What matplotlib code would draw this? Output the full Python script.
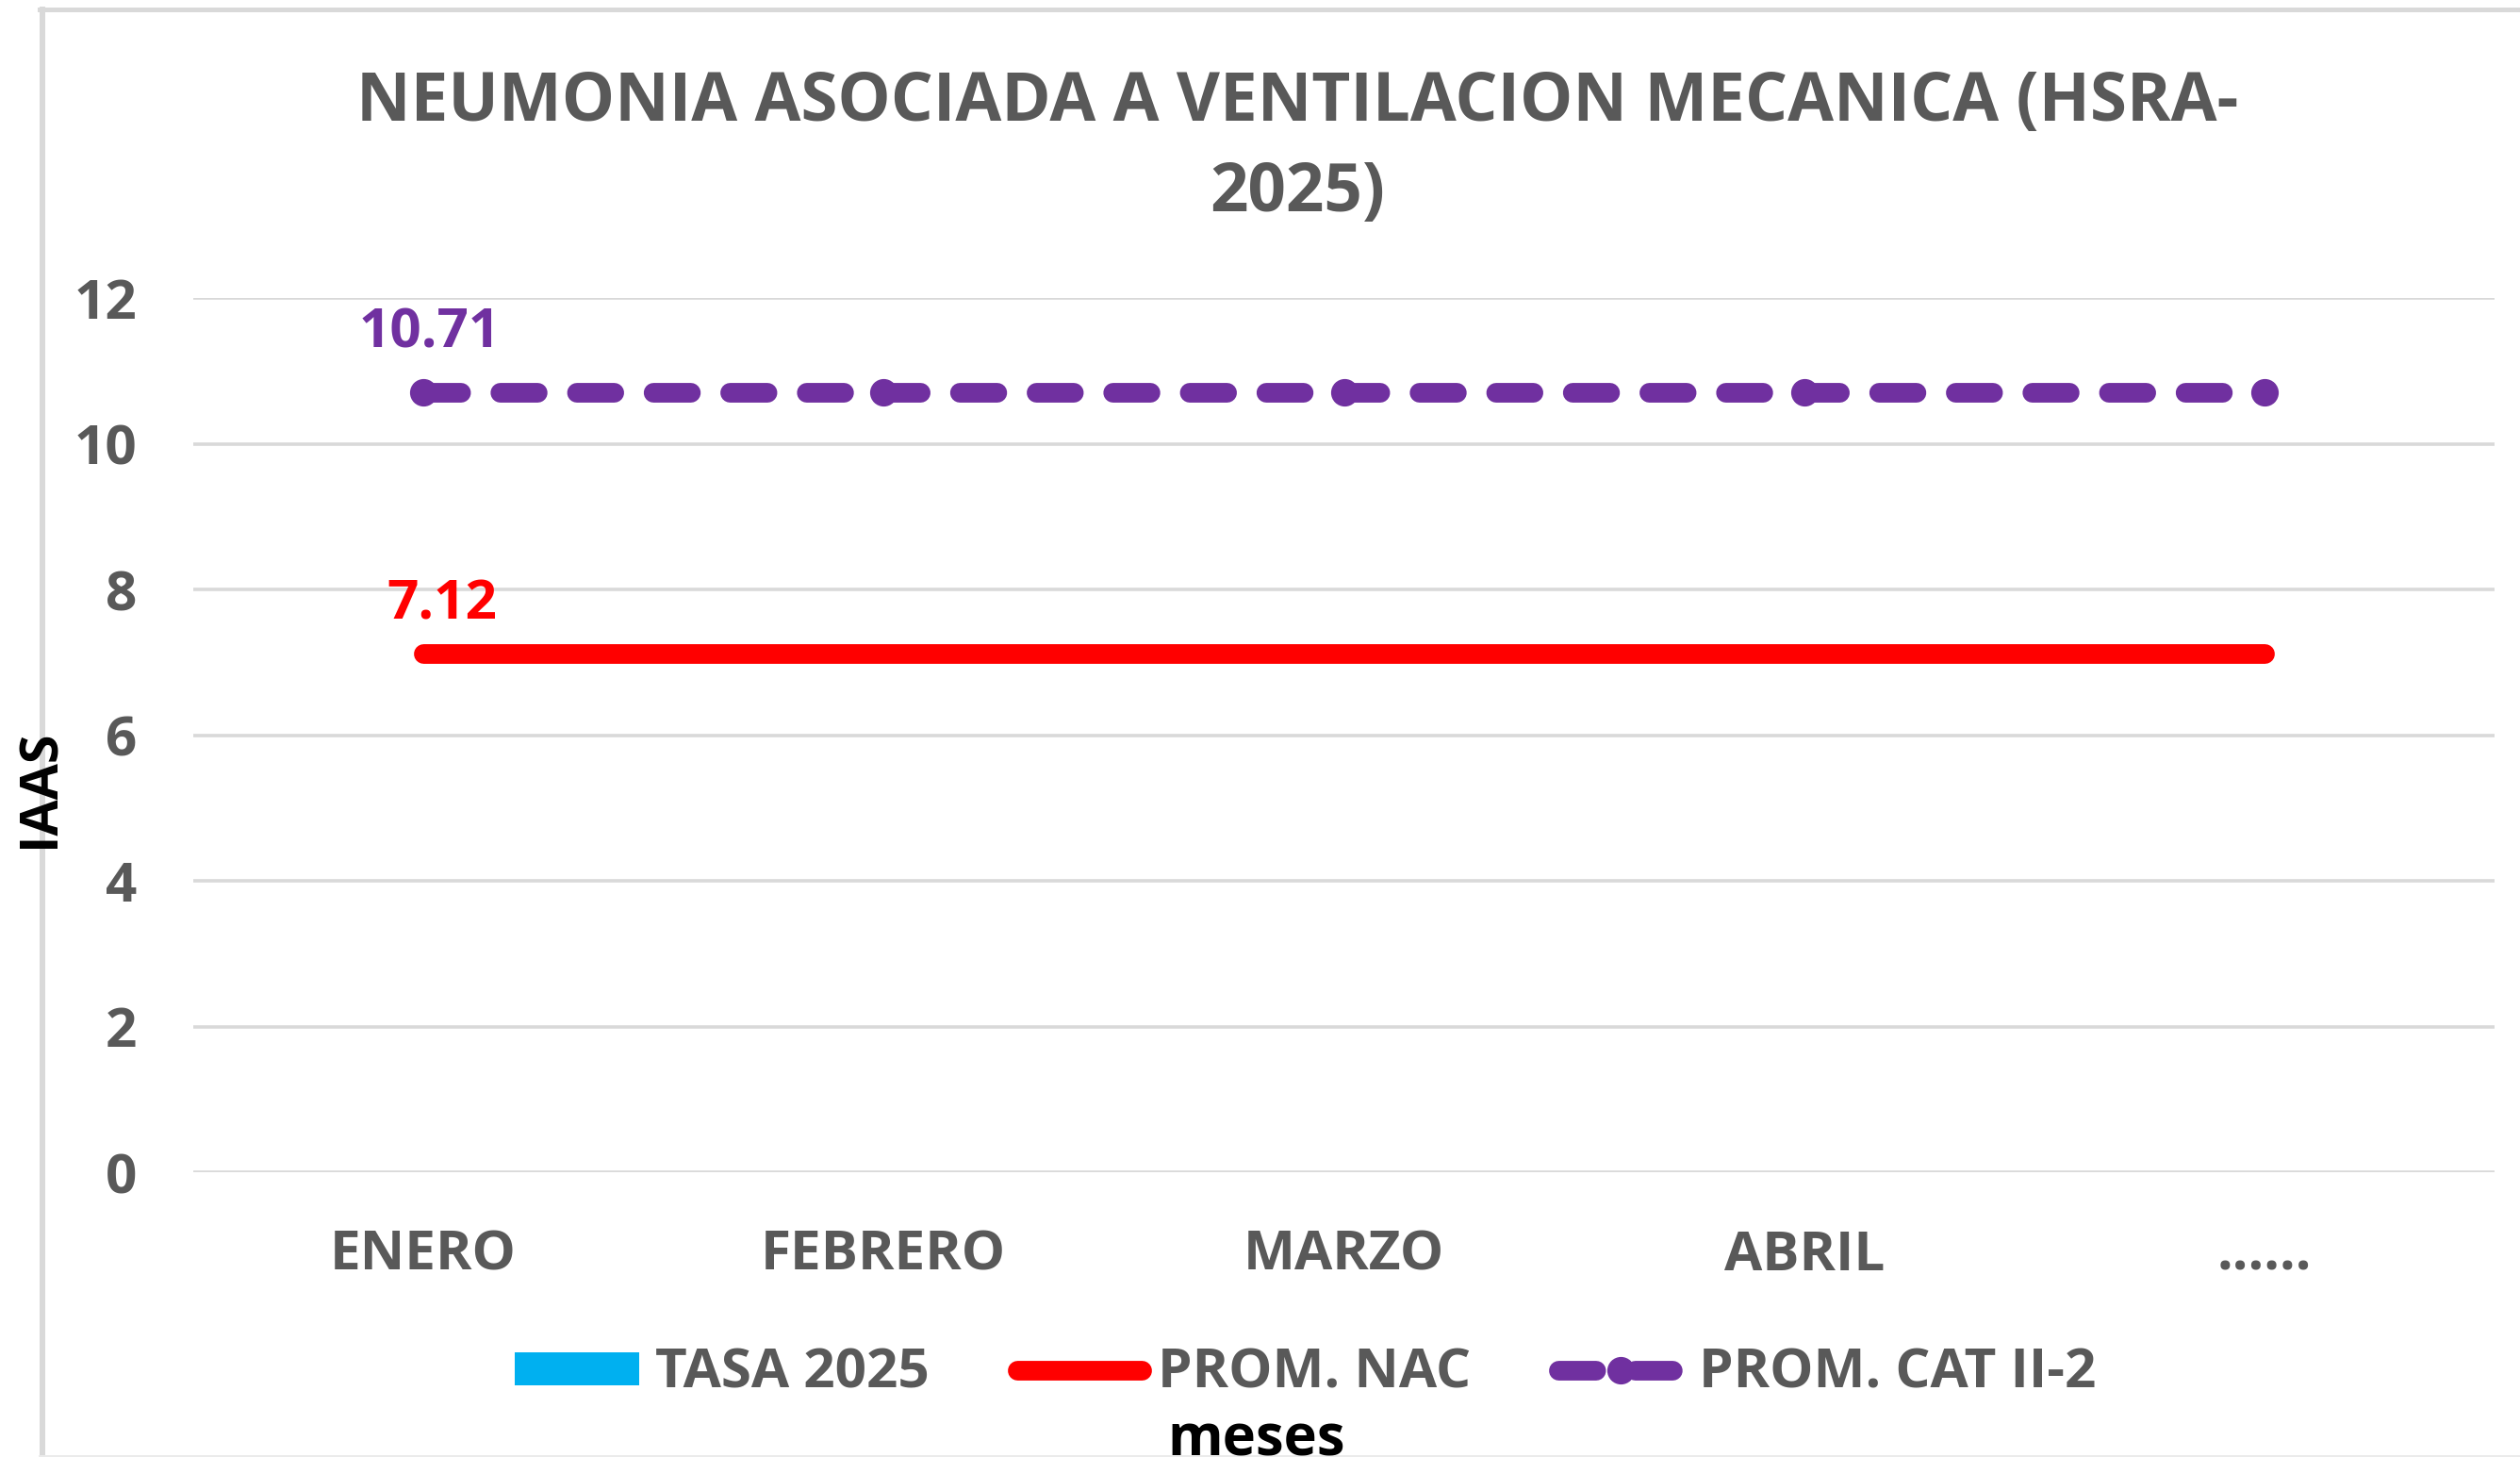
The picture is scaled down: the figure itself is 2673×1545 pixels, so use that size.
import numpy as np
import matplotlib
matplotlib.use("Agg")
import matplotlib.pyplot as plt
from matplotlib.patches import Patch
from matplotlib.lines import Line2D

# ---- data ----
categories = ["ENERO", "FEBRERO", "MARZO", "ABRIL", "......"]
tasa_2025 = [np.nan, np.nan, np.nan, np.nan, np.nan]
prom_nac = [7.12, 7.12, 7.12, 7.12, 7.12]
prom_cat = [10.71, 10.71, 10.71, 10.71, 10.71]
y_ticks = [0, 2, 4, 6, 8, 10, 12]

title = "NEUMONIA ASOCIADA A VENTILACION MECANICA (HSRA-\n2025)"
labels = ["TASA 2025", "PROM. NAC", "PROM. CAT II-2"]

W, H = 2673, 1545
DPI = 100
plt.rcParams["font.family"] = ["Open Sans", "DejaVu Sans"]
plt.rcParams["font.weight"] = "bold"

GRAY = "#595959"
GRID = "#D9D9D9"
BLUE = "#00B0F0"
RED = "#FF0000"
PURPLE = "#7030A0"

fig = plt.figure(figsize=(W / DPI, H / DPI), dpi=DPI, facecolor="white")
ax = fig.add_axes([205 / W, 1 - 1243 / H, (2646 - 205) / W, (1243 - 316) / H])

x = np.arange(len(categories))
ax.bar(x, tasa_2025, width=0.5, color=BLUE, label=labels[0])
lw = 15
ax.plot(x, prom_nac, color=RED, lw=lw, solid_capstyle="round", label=labels[1], zorder=3)
ax.plot(x, prom_cat, color=PURPLE, lw=lw, dashes=(1.9, 2.0), dash_capstyle="round",
        marker="o", markersize=20, label=labels[2], zorder=4)

ax.set_xlim(-0.5, len(categories) - 0.5)
ax.set_ylim(0, 12)
ax.set_yticks(y_ticks)
ax.set_xticks(x)
ax.set_xticklabels(categories)
ax.tick_params(axis="both", length=0, labelsize=42, labelcolor=GRAY)
ax.tick_params(axis="y", pad=43)
ax.tick_params(axis="x", pad=43)
for t in ax.get_xticklabels() + ax.get_yticklabels():
    t.set_fontweight("bold")
ax.grid(axis="y", color=GRID, lw=2.6)
ax.set_axisbelow(True)
for s in ax.spines.values():
    s.set_visible(False)

# data labels at first point
ax.annotate(f"{prom_cat[0]:.2f}", (x[0], prom_cat[0]), xytext=(5, 34), textcoords="offset points",
            ha="center", va="baseline", color=PURPLE, fontsize=42, fontweight="bold")
ax.annotate(f"{prom_nac[0]:.2f}", (x[0], prom_nac[0]), xytext=(14, 26), textcoords="offset points",
            ha="center", va="baseline", color=RED, fontsize=42, fontweight="bold")

# title
fig.text(1376 / W, 1 - 157 / H, title, ha="center", va="center", multialignment="center",
         fontsize=51, fontweight="bold", color=GRAY, linespacing=1.42)

# axis labels
fig.text(43 / W, 1 - 836 / H, "IAAS", rotation=90, ha="center", va="center",
         fontsize=40, fontweight="bold", color="black", zorder=10)
fig.text(1333 / W, 1 - 1497 / H, "meses", ha="center", va="top",
         fontsize=43, fontweight="bold", color="black", zorder=10)

# legend
handles = [
    Patch(facecolor=BLUE, edgecolor="none"),
    Line2D([], [], color=RED, lw=lw, solid_capstyle="round"),
    Line2D([], [], color=PURPLE, lw=lw, dashes=(1.9, 2.0), dash_capstyle="round",
           marker="o", markersize=20),
]
leg = fig.legend(handles, labels, loc="center", bbox_to_anchor=(1385 / W, 1 - 1457 / H),
                 ncol=3, frameon=False, fontsize=42, handlelength=2.25, handleheight=0.55,
                 handletextpad=0.3, columnspacing=1.6, numpoints=1,
                 prop={"weight": "bold", "size": 42})
for t in leg.get_texts():
    t.set_color(GRAY)

# frame lines
fig.add_artist(Line2D([45 / W, 45 / W], [1 - 9.5 / H, 0], transform=fig.transFigure,
                      color=GRID, lw=4.3, zorder=1))
fig.add_artist(Line2D([42 / W, 1], [1 - 9.5 / H, 1 - 9.5 / H], transform=fig.transFigure,
                      color=GRID, lw=3.6, zorder=1))
fig.add_artist(Line2D([42 / W, 1], [1.2 / H, 1.2 / H], transform=fig.transFigure,
                      color="#EBEBEB", lw=1.4, zorder=1))

fig.savefig("out.png", dpi=DPI, facecolor="white")
